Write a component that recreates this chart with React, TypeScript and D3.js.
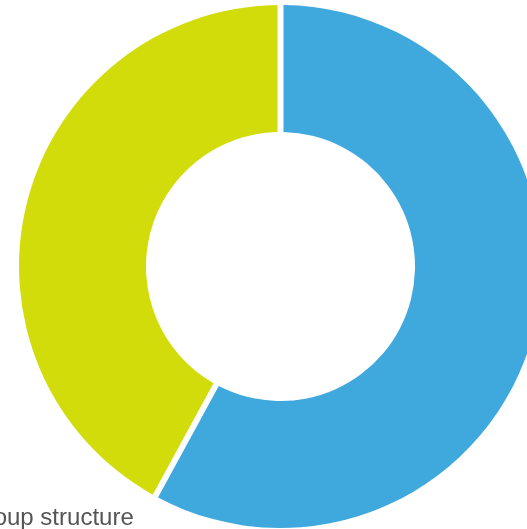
import React from "react";
import * as d3 from "d3";

const categories = ["Segment A", "Segment B"];
const values = [58, 42];
const colors = ["#3FA9DD", "#D3DC0B"];
const title = "Group structure";

export default function App() {
  const width = 527;
  const height = 529;
  const cx = 280.5;
  const cy = 266.5;
  const outer = 261.5;
  const inner = 134.5;
  const gap = 6;

  const pie = d3
    .pie<number>()
    .sort(null)
    .value((d) => d)
    .padAngle(gap / outer);
  const arcs = pie(values);
  const arc = d3
    .arc<d3.PieArcDatum<number>>()
    .innerRadius(inner)
    .outerRadius(outer)
    .padRadius(outer);

  return (
    <div style={{ position: "fixed", left: 0, top: 0 }}>
      <svg width={width} height={height} style={{ display: "block" }}>
        <g transform={`translate(${cx},${cy})`}>
          {arcs.map((a, i) => (
            <path key={categories[i]} d={arc(a) || ""} fill={colors[i]} />
          ))}
        </g>
        <text
          x={-33}
          y={525}
          fontFamily="'Liberation Sans Narrow', 'Liberation Sans', Arial, sans-serif"
          fontSize={24}
          fill="#555555"
        >
          {title}
        </text>
      </svg>
    </div>
  );
}
